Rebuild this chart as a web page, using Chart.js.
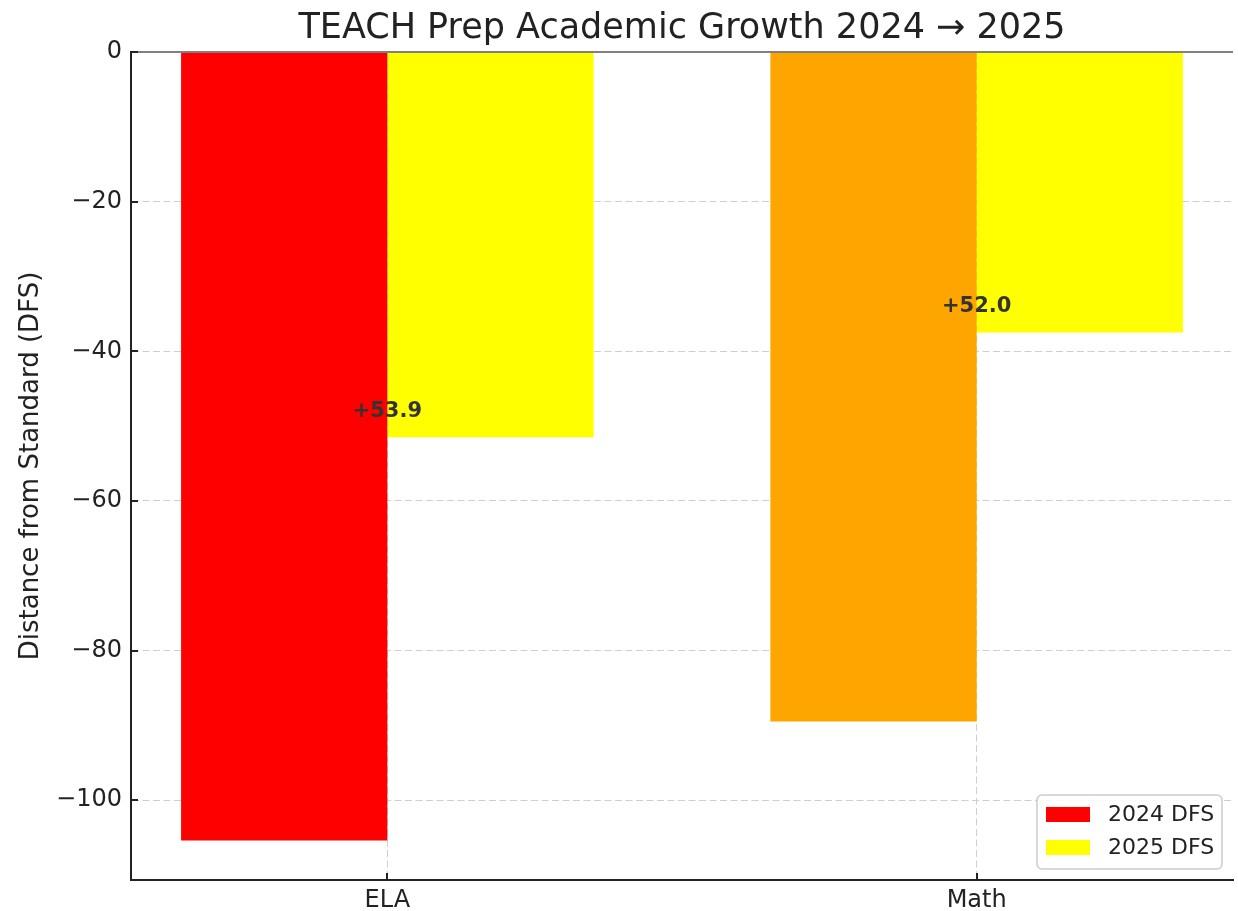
<!DOCTYPE html>
<html>
<head>
<meta charset="utf-8">
<title>TEACH Prep Academic Growth</title>
<script src="https://cdn.jsdelivr.net/npm/chart.js@4.4.1/dist/chart.umd.min.js"></script>
<style>
  html, body { margin: 0; padding: 0; background: #ffffff; }
  #wrap { width: 1238px; height: 911px; }
</style>
</head>
<body>
<div id="wrap"><canvas id="growthChart" width="1238" height="911"></canvas></div>
<script>
// Values
const subjects = ['ELA', 'Math'];
const seriesLabels = ['2024 DFS', '2025 DFS'];
const dfs2024 = [-105.4, -89.5];
const dfs2025 = [-51.5, -37.5];
const colors2024 = ['#ff0000', '#ffa500'];
const colors2025 = ['#ffff00', '#ffff00'];
const yTicks = [-100, -80, -60, -40, -20, 0];
const chartTitle = 'TEACH Prep Academic Growth 2024 \u2192 2025';

const TEXT = '#222222';
Chart.defaults.font.family = "'DejaVu Sans', sans-serif";
Chart.defaults.color = TEXT;

// points on a linear x axis, one slot per subject
function toPoints(values) {
    return values.map((v, i) => ({ x: i, y: v }));
}

// title centred over the plot, gray zero line, inward ticks, growth labels, legend
const extrasPlugin = {
    id: 'extras',
    afterDatasetsDraw(chart) {
        const { ctx, chartArea: area, scales: { x, y } } = chart;
        ctx.save();

        // title over the plot area (matplotlib centres it on the axes)
        ctx.fillStyle = TEXT;
        ctx.font = "35px 'DejaVu Sans', sans-serif";
        ctx.textAlign = 'center';
        ctx.textBaseline = 'alphabetic';
        ctx.fillText(chartTitle, (area.left + area.right) / 2, 38);

        // zero line across the top
        const y0 = y.getPixelForValue(0);
        ctx.strokeStyle = '#808080';
        ctx.lineWidth = 2;
        ctx.beginPath();
        ctx.moveTo(area.left, y0);
        ctx.lineTo(area.right, y0);
        ctx.stroke();

        // inward tick marks
        ctx.strokeStyle = TEXT;
        ctx.lineWidth = 2;
        yTicks.forEach(t => {
            const py = Math.round(y.getPixelForValue(t));
            ctx.beginPath();
            ctx.moveTo(area.left, py);
            ctx.lineTo(area.left + 7, py);
            ctx.stroke();
        });
        subjects.forEach((s, i) => {
            const px = Math.round(x.getPixelForValue(i));
            ctx.beginPath();
            ctx.moveTo(px, area.bottom);
            ctx.lineTo(px, area.bottom - 7);
            ctx.stroke();
        });

        // growth labels
        ctx.fillStyle = '#333333';
        ctx.font = "bold 21px 'DejaVu Sans', sans-serif";
        ctx.textAlign = 'center';
        ctx.textBaseline = 'middle';
        subjects.forEach((s, i) => {
            const diff = dfs2025[i] - dfs2024[i];
            const label = (diff >= 0 ? '+' : '') + diff.toFixed(1);
            ctx.fillText(label, x.getPixelForValue(i), y.getPixelForValue(dfs2025[i] + 3.5));
        });

        // legend, lower right inside the plot
        const boxW = 185, boxH = 74;
        const bx = area.right - 11 - boxW;
        const by = area.bottom - 11 - boxH;
        ctx.fillStyle = 'rgba(255,255,255,0.85)';
        ctx.strokeStyle = '#cccccc';
        ctx.lineWidth = 1.5;
        ctx.beginPath();
        ctx.roundRect(bx, by, boxW, boxH, 5);
        ctx.fill();
        ctx.stroke();

        ctx.font = "22px 'DejaVu Sans', sans-serif";
        ctx.textAlign = 'left';
        ctx.textBaseline = 'middle';
        chart.data.datasets.forEach((ds, i) => {
            const cy = by + 19.5 + i * 33;
            ctx.fillStyle = ds.backgroundColor[0];
            ctx.fillRect(bx + 9, cy - 7.5, 44, 15);
            ctx.fillStyle = TEXT;
            ctx.fillText(ds.label, bx + 71, cy + 1);
        });

        ctx.restore();
    }
};

const ctx = document.getElementById('growthChart').getContext('2d');
new Chart(ctx, {
    type: 'bar',
    data: {
        datasets: [
            {
                label: seriesLabels[0],
                data: toPoints(dfs2024),
                backgroundColor: colors2024,
                borderWidth: 0,
            },
            {
                label: seriesLabels[1],
                data: toPoints(dfs2025),
                backgroundColor: colors2025,
                borderWidth: 0,
            },
        ],
    },
    options: {
        responsive: false,
        devicePixelRatio: 1,
        animation: false,
        categoryPercentage: 0.7,
        barPercentage: 1.0,
        layout: {
            padding: { left: 0, right: 5, top: 52, bottom: 0 },
        },
        plugins: {
            legend: { display: false },
            tooltip: { enabled: false },
            title: { display: false },
        },
        scales: {
            x: {
                type: 'linear',
                min: -0.435,
                max: 1.435,
                offset: false,
                afterBuildTicks: (scale) => {
                    scale.ticks = subjects.map((s, i) => ({ value: i }));
                },
                afterFit: (scale) => {
                    scale.height = 31;
                },
                ticks: {
                    padding: 6,
                    font: { size: 24 },
                    color: TEXT,
                    callback: (v) => subjects[v] ?? '',
                },
                grid: {
                    offset: false,
                    color: '#cfcfcf',
                    lineWidth: 1,
                    drawTicks: false,
                },
                border: {
                    display: true,
                    color: TEXT,
                    width: 2,
                    dash: [7, 3.5],
                },
            },
            y: {
                min: -110.67,
                max: 0,
                afterBuildTicks: (scale) => {
                    scale.ticks = yTicks.map(v => ({ value: v }));
                },
                afterFit: (scale) => {
                    scale.width = 131;
                },
                ticks: {
                    padding: 9,
                    font: { size: 24 },
                    color: TEXT,
                    callback: (v) => String(v).replace('-', '\u2212'),
                },
                grid: {
                    color: '#cfcfcf',
                    lineWidth: 1,
                    drawTicks: false,
                },
                border: {
                    display: true,
                    color: TEXT,
                    width: 2,
                    dash: [7, 3.5],
                },
                title: {
                    display: true,
                    text: 'Distance from Standard (DFS)',
                    color: TEXT,
                    font: { size: 26 },
                    padding: { top: 16, bottom: 0 },
                },
            },
        },
    },
    plugins: [extrasPlugin],
});
</script>
</body>
</html>
